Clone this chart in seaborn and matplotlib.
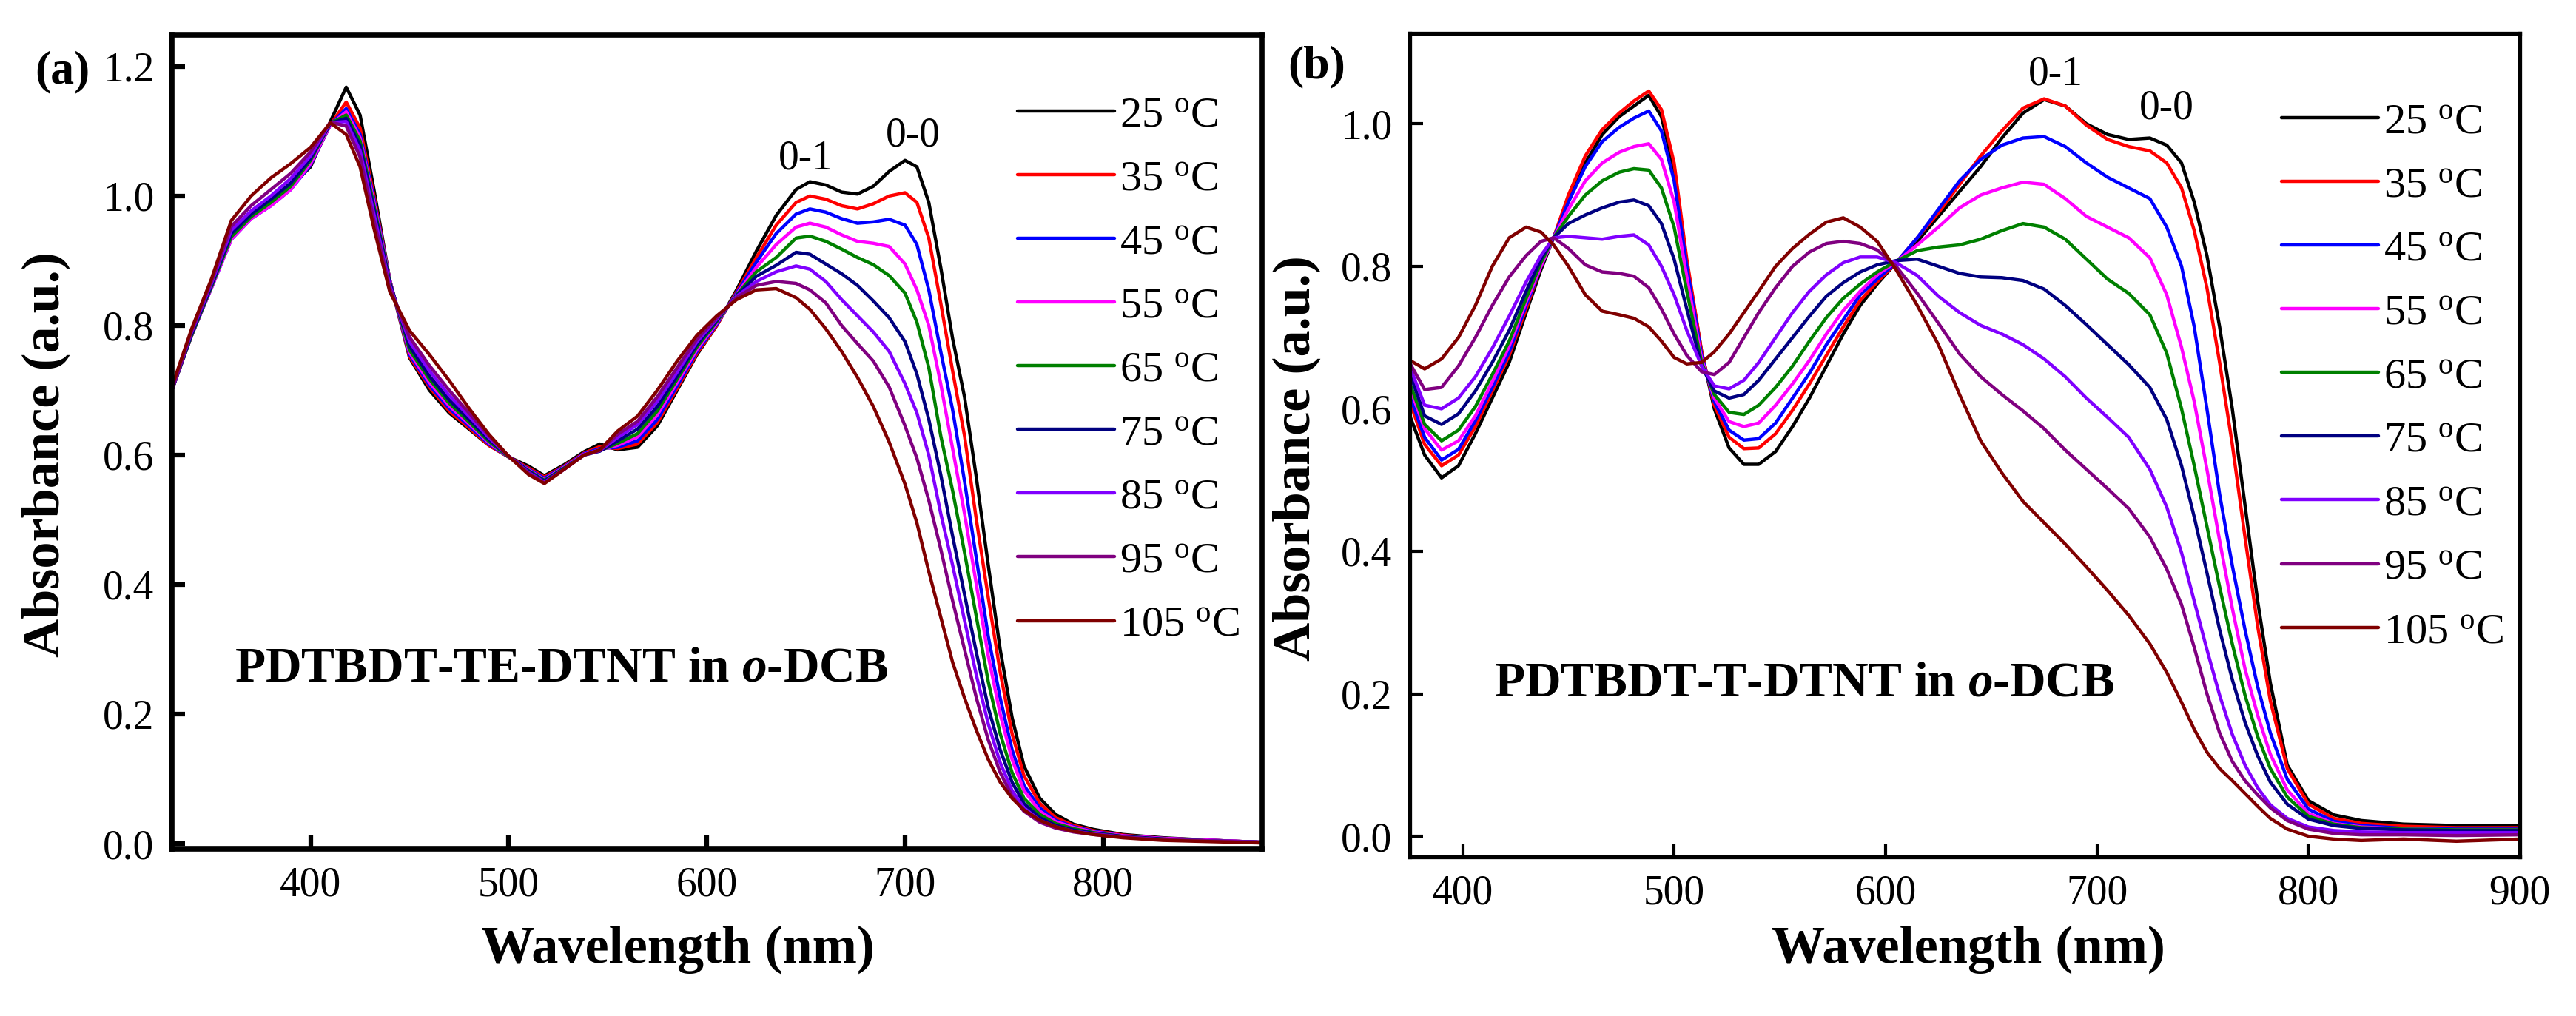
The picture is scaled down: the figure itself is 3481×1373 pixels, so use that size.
import numpy as np
import pandas as pd
import matplotlib
matplotlib.use("Agg")
import matplotlib.pyplot as plt
from matplotlib.ticker import FormatStrFormatter, MultipleLocator
import seaborn as sns

# temperatures and line colours (Origin style)
temps = ["25", "35", "45", "55", "65", "75", "85", "95", "105"]
colors = ["#000000", "#FF0000", "#0000FF", "#FF00FF", "#008000",
          "#000080", "#8000FF", "#800080", "#800000"]

# ---------------- panel (a): PDTBDT-TE-DTNT ----------------
wl_a = [330, 340, 350, 360, 370, 380, 390, 400, 410, 418,
        425, 432, 440, 450, 460, 470, 480, 490, 500, 510,
        518, 528, 538, 546, 555, 565, 575, 585, 595, 605,
        615, 625, 635, 645, 652, 660, 668, 676, 684, 692,
        700, 706, 712, 718, 724, 730, 736, 742, 748, 754,
        760, 768, 776, 785, 795, 810, 830, 855, 880]

a_25 = [0.700, 0.785, 0.860, 0.935, 0.970, 0.990, 1.015, 1.045, 1.115, 1.168,
        1.125, 1.010, 0.870, 0.750, 0.700, 0.665, 0.640, 0.615, 0.597, 0.583,
        0.568, 0.585, 0.605, 0.617, 0.608, 0.612, 0.645, 0.700, 0.755, 0.800,
        0.855, 0.915, 0.970, 1.010, 1.022, 1.017, 1.006, 1.003, 1.015, 1.038,
        1.055, 1.045, 0.990, 0.890, 0.780, 0.690, 0.565, 0.430, 0.300, 0.195,
        0.120, 0.070, 0.045, 0.030, 0.022, 0.014, 0.009, 0.005, 0.002]
a_35 = [0.700, 0.785, 0.860, 0.935, 0.968, 0.988, 1.013, 1.048, 1.110, 1.145,
        1.105, 1.000, 0.870, 0.752, 0.705, 0.668, 0.642, 0.615, 0.597, 0.580,
        0.566, 0.583, 0.603, 0.613, 0.610, 0.617, 0.650, 0.703, 0.757, 0.800,
        0.852, 0.905, 0.955, 0.990, 1.000, 0.995, 0.985, 0.980, 0.988, 1.000,
        1.005, 0.990, 0.935, 0.835, 0.730, 0.630, 0.500, 0.380, 0.265, 0.170,
        0.105, 0.062, 0.040, 0.028, 0.020, 0.013, 0.008, 0.005, 0.002]
a_45 = [0.700, 0.785, 0.858, 0.933, 0.965, 0.985, 1.010, 1.048, 1.110, 1.135,
        1.095, 0.995, 0.870, 0.755, 0.708, 0.672, 0.645, 0.617, 0.597, 0.578,
        0.564, 0.582, 0.602, 0.610, 0.612, 0.622, 0.655, 0.707, 0.760, 0.802,
        0.850, 0.898, 0.942, 0.972, 0.980, 0.975, 0.965, 0.958, 0.960, 0.964,
        0.955, 0.925, 0.855, 0.760, 0.670, 0.560, 0.440, 0.320, 0.225, 0.145,
        0.090, 0.055, 0.036, 0.026, 0.019, 0.012, 0.008, 0.005, 0.002]
a_55 = [0.700, 0.785, 0.858, 0.933, 0.965, 0.985, 1.010, 1.050, 1.110, 1.130,
        1.090, 0.990, 0.870, 0.758, 0.712, 0.676, 0.648, 0.619, 0.597, 0.577,
        0.562, 0.581, 0.601, 0.608, 0.615, 0.628, 0.662, 0.712, 0.763, 0.804,
        0.848, 0.890, 0.925, 0.952, 0.958, 0.952, 0.940, 0.930, 0.927, 0.922,
        0.895, 0.855, 0.800, 0.710, 0.610, 0.510, 0.400, 0.290, 0.200, 0.130,
        0.082, 0.050, 0.034, 0.025, 0.018, 0.012, 0.008, 0.005, 0.002]
a_65 = [0.700, 0.785, 0.860, 0.937, 0.968, 0.990, 1.015, 1.055, 1.112, 1.125,
        1.085, 0.985, 0.868, 0.762, 0.717, 0.680, 0.651, 0.621, 0.597, 0.576,
        0.561, 0.580, 0.600, 0.607, 0.618, 0.633, 0.668, 0.717, 0.767, 0.806,
        0.847, 0.883, 0.905, 0.935, 0.938, 0.930, 0.918, 0.905, 0.894, 0.877,
        0.850, 0.805, 0.735, 0.630, 0.545, 0.450, 0.350, 0.250, 0.170, 0.110,
        0.070, 0.045, 0.031, 0.023, 0.017, 0.011, 0.007, 0.004, 0.002]
a_75 = [0.700, 0.787, 0.862, 0.942, 0.972, 0.995, 1.020, 1.058, 1.112, 1.120,
        1.078, 0.980, 0.866, 0.768, 0.722, 0.685, 0.655, 0.624, 0.598, 0.575,
        0.560, 0.579, 0.600, 0.606, 0.622, 0.640, 0.675, 0.722, 0.771, 0.808,
        0.846, 0.876, 0.893, 0.913, 0.910, 0.895, 0.880, 0.862, 0.838, 0.812,
        0.775, 0.725, 0.655, 0.570, 0.475, 0.385, 0.295, 0.210, 0.145, 0.095,
        0.062, 0.040, 0.028, 0.021, 0.016, 0.011, 0.007, 0.004, 0.002]
a_85 = [0.700, 0.790, 0.865, 0.947, 0.977, 1.000, 1.027, 1.062, 1.113, 1.115,
        1.070, 0.972, 0.862, 0.775, 0.730, 0.692, 0.660, 0.627, 0.598, 0.573,
        0.558, 0.578, 0.600, 0.607, 0.627, 0.647, 0.683, 0.728, 0.775, 0.810,
        0.845, 0.868, 0.883, 0.892, 0.887, 0.868, 0.840, 0.815, 0.790, 0.760,
        0.710, 0.665, 0.600, 0.510, 0.430, 0.345, 0.260, 0.185, 0.125, 0.082,
        0.055, 0.036, 0.026, 0.019, 0.015, 0.010, 0.006, 0.004, 0.002]
a_95 = [0.700, 0.792, 0.868, 0.953, 0.985, 1.010, 1.035, 1.068, 1.114, 1.108,
        1.060, 0.962, 0.858, 0.782, 0.738, 0.700, 0.665, 0.630, 0.598, 0.572,
        0.557, 0.578, 0.600, 0.607, 0.632, 0.652, 0.690, 0.735, 0.779, 0.812,
        0.843, 0.862, 0.868, 0.865, 0.855, 0.835, 0.800, 0.772, 0.745, 0.705,
        0.645, 0.595, 0.530, 0.455, 0.375, 0.300, 0.225, 0.160, 0.110, 0.073,
        0.050, 0.033, 0.024, 0.018, 0.014, 0.010, 0.006, 0.004, 0.002]
a_105 = [0.705, 0.795, 0.872, 0.962, 1.000, 1.028, 1.050, 1.075, 1.113, 1.095,
         1.045, 0.950, 0.852, 0.792, 0.755, 0.715, 0.672, 0.632, 0.598, 0.570,
         0.556, 0.578, 0.600, 0.608, 0.637, 0.660, 0.700, 0.745, 0.785, 0.815,
         0.840, 0.855, 0.857, 0.843, 0.825, 0.795, 0.760, 0.720, 0.675, 0.620,
         0.555, 0.495, 0.420, 0.350, 0.280, 0.225, 0.175, 0.130, 0.095, 0.070,
         0.052, 0.036, 0.026, 0.019, 0.014, 0.009, 0.005, 0.003, 0.001]

# ---------------- panel (b): PDTBDT-T-DTNT ----------------
wl_b = [375, 382, 390, 398, 406, 414, 422, 430, 437, 443,
        450, 458, 466, 474, 481, 488, 494, 500, 506, 513,
        519, 526, 533, 540, 548, 556, 564, 572, 580, 588,
        596, 605, 615, 625, 635, 645, 655, 665, 675, 685,
        695, 705, 715, 725, 733, 740, 746, 752, 758, 764,
        770, 776, 782, 790, 800, 812, 825, 845, 870, 900]

b_25 = [0.590, 0.535, 0.503, 0.520, 0.565, 0.615, 0.665, 0.735, 0.795, 0.840,
        0.895, 0.945, 0.985, 1.010, 1.025, 1.040, 1.010, 0.935, 0.805, 0.680,
        0.600, 0.545, 0.522, 0.522, 0.540, 0.575, 0.615, 0.660, 0.705, 0.745,
        0.775, 0.805, 0.835, 0.870, 0.905, 0.940, 0.980, 1.015, 1.034, 1.025,
        1.000, 0.985, 0.978, 0.980, 0.970, 0.945, 0.890, 0.815, 0.715, 0.600,
        0.465, 0.330, 0.215, 0.100, 0.050, 0.030, 0.022, 0.017, 0.015, 0.015]
b_35 = [0.610, 0.550, 0.520, 0.535, 0.575, 0.625, 0.675, 0.740, 0.800, 0.840,
        0.900, 0.955, 0.992, 1.015, 1.032, 1.046, 1.020, 0.945, 0.810, 0.680,
        0.605, 0.560, 0.544, 0.545, 0.565, 0.598, 0.635, 0.675, 0.715, 0.752,
        0.778, 0.805, 0.840, 0.875, 0.915, 0.955, 0.990, 1.022, 1.035, 1.025,
        0.998, 0.978, 0.968, 0.962, 0.945, 0.910, 0.850, 0.770, 0.665, 0.550,
        0.420, 0.295, 0.190, 0.095, 0.045, 0.025, 0.018, 0.014, 0.012, 0.012]
b_45 = [0.618, 0.560, 0.528, 0.543, 0.583, 0.630, 0.680, 0.745, 0.800, 0.840,
        0.890, 0.940, 0.975, 0.995, 1.008, 1.018, 0.990, 0.920, 0.800, 0.675,
        0.610, 0.570, 0.556, 0.558, 0.580, 0.615, 0.650, 0.690, 0.725, 0.760,
        0.782, 0.805, 0.840, 0.880, 0.920, 0.950, 0.970, 0.980, 0.982, 0.968,
        0.945, 0.925, 0.910, 0.895, 0.855, 0.800, 0.715, 0.600, 0.480, 0.380,
        0.290, 0.210, 0.145, 0.080, 0.038, 0.021, 0.015, 0.011, 0.010, 0.010]
b_55 = [0.630, 0.572, 0.542, 0.555, 0.590, 0.638, 0.688, 0.750, 0.800, 0.840,
        0.880, 0.920, 0.945, 0.960, 0.968, 0.972, 0.950, 0.890, 0.785, 0.670,
        0.615, 0.582, 0.575, 0.580, 0.605, 0.635, 0.668, 0.705, 0.738, 0.765,
        0.788, 0.806, 0.830, 0.855, 0.882, 0.900, 0.910, 0.918, 0.915, 0.895,
        0.870, 0.855, 0.840, 0.812, 0.760, 0.686, 0.610, 0.515, 0.415, 0.320,
        0.235, 0.170, 0.115, 0.065, 0.032, 0.018, 0.013, 0.010, 0.009, 0.009]
b_65 = [0.636, 0.578, 0.555, 0.570, 0.603, 0.648, 0.695, 0.755, 0.805, 0.840,
        0.870, 0.900, 0.920, 0.932, 0.937, 0.935, 0.910, 0.855, 0.765, 0.665,
        0.620, 0.595, 0.592, 0.605, 0.630, 0.660, 0.695, 0.728, 0.755, 0.775,
        0.792, 0.807, 0.822, 0.827, 0.830, 0.838, 0.850, 0.860, 0.855, 0.838,
        0.810, 0.782, 0.762, 0.732, 0.678, 0.600, 0.520, 0.435, 0.350, 0.270,
        0.198, 0.140, 0.095, 0.055, 0.028, 0.017, 0.012, 0.010, 0.009, 0.009]
b_75 = [0.650, 0.590, 0.578, 0.593, 0.625, 0.665, 0.710, 0.765, 0.810, 0.840,
        0.860, 0.872, 0.882, 0.890, 0.893, 0.885, 0.860, 0.810, 0.740, 0.660,
        0.625, 0.615, 0.620, 0.640, 0.670, 0.700, 0.730, 0.758, 0.777, 0.792,
        0.802, 0.808, 0.810, 0.800, 0.790, 0.785, 0.784, 0.780, 0.768, 0.745,
        0.718, 0.690, 0.662, 0.630, 0.585, 0.520, 0.448, 0.370, 0.290, 0.220,
        0.160, 0.113, 0.076, 0.045, 0.024, 0.015, 0.011, 0.009, 0.008, 0.008]
b_85 = [0.659, 0.605, 0.600, 0.615, 0.645, 0.685, 0.730, 0.778, 0.815, 0.840,
        0.842, 0.840, 0.838, 0.842, 0.844, 0.830, 0.800, 0.760, 0.710, 0.660,
        0.632, 0.628, 0.640, 0.665, 0.700, 0.735, 0.765, 0.788, 0.805, 0.813,
        0.813, 0.805, 0.787, 0.758, 0.735, 0.717, 0.705, 0.690, 0.670, 0.645,
        0.615, 0.588, 0.560, 0.515, 0.462, 0.398, 0.330, 0.262, 0.198, 0.143,
        0.100, 0.068, 0.044, 0.025, 0.013, 0.008, 0.006, 0.005, 0.005, 0.005]
b_95 = [0.664, 0.627, 0.630, 0.660, 0.700, 0.745, 0.785, 0.815, 0.835, 0.840,
        0.825, 0.802, 0.792, 0.790, 0.786, 0.770, 0.740, 0.705, 0.675, 0.652,
        0.648, 0.665, 0.700, 0.735, 0.770, 0.800, 0.820, 0.832, 0.835, 0.832,
        0.823, 0.800, 0.762, 0.720, 0.677, 0.645, 0.620, 0.597, 0.572, 0.542,
        0.515, 0.488, 0.460, 0.420, 0.375, 0.325, 0.265, 0.200, 0.145, 0.105,
        0.078, 0.058, 0.040, 0.022, 0.010, 0.004, 0.002, 0.002, 0.001, 0.002]
b_105 = [0.668, 0.656, 0.670, 0.700, 0.745, 0.800, 0.840, 0.855, 0.848, 0.830,
         0.800, 0.760, 0.737, 0.732, 0.727, 0.715, 0.695, 0.672, 0.663, 0.665,
         0.680, 0.705, 0.735, 0.765, 0.800, 0.825, 0.845, 0.862, 0.868, 0.855,
         0.835, 0.795, 0.745, 0.690, 0.620, 0.555, 0.510, 0.470, 0.440, 0.410,
         0.378, 0.345, 0.310, 0.270, 0.230, 0.188, 0.150, 0.118, 0.095, 0.078,
         0.060, 0.042, 0.025, 0.010, 0.000, -0.004, -0.006, -0.004, -0.007, -0.004]

series_a = [a_25, a_35, a_45, a_55, a_65, a_75, a_85, a_95, a_105]
series_b = [b_25, b_35, b_45, b_55, b_65, b_75, b_85, b_95, b_105]
labels = [t + r" $^{\mathrm{o}}$C" for t in temps]


def long_frame(wl, series):
    rows = []
    for lab, vals in zip(labels, series):
        for w, v in zip(wl, vals):
            rows.append((w, v, lab))
    return pd.DataFrame(rows, columns=["wl", "absorbance", "temp"])


sns.set_style("ticks")
plt.rcParams["font.family"] = ["Liberation Serif", "DejaVu Serif"]
plt.rcParams["mathtext.fontset"] = "custom"
plt.rcParams["mathtext.rm"] = "Liberation Serif"
plt.rcParams["mathtext.it"] = "Liberation Serif:italic:bold"
plt.rcParams["mathtext.bf"] = "Liberation Serif:bold"
for key in ["axes.edgecolor", "xtick.color", "ytick.color",
            "text.color", "axes.labelcolor"]:
    plt.rcParams[key] = "black"

fig = plt.figure(figsize=(34.81, 13.73), dpi=100)
ax_a = fig.add_axes([0.0667, 0.1646, 0.4231, 0.8012])
ax_b = fig.add_axes([0.5473, 0.1566, 0.4309, 0.8106])

panels = [
    dict(ax=ax_a, wl=wl_a, series=series_a, xlim=(330, 880), ylim=(-0.008, 1.249),
         xmax_tick=800, spine=5.5, tickw=4.5, ylab_x=-0.093, xlab=(0.464, -0.094),
         name=r"PDTBDT-TE-DTNT in $\mathit{o}$-DCB", name_xy=(361.7, 0.27),
         p01=(650, 1.058), p00=(704, 1.093), leg=(0.776, 0.925)),
    dict(ax=ax_b, wl=wl_b, series=series_b, xlim=(375, 900), ylim=(-0.029, 1.127),
         xmax_tick=900, spine=3.8, tickw=3.0, ylab_x=-0.08, xlab=(0.503, -0.083),
         name=r"PDTBDT-T-DTNT in $\mathit{o}$-DCB", name_xy=(415, 0.214),
         p01=(680.5, 1.069), p00=(733, 1.022), leg=(0.785, 0.916)),
]

for p in panels:
    ax = p["ax"]
    df = long_frame(p["wl"], p["series"])
    sns.lineplot(data=df, x="wl", y="absorbance", hue="temp", hue_order=labels,
                 palette=colors, estimator=None, linewidth=3.2, legend=False, ax=ax)
    ax.set_xlim(*p["xlim"])
    ax.set_ylim(*p["ylim"])
    ax.yaxis.set_major_locator(MultipleLocator(0.2))
    ax.yaxis.set_major_formatter(FormatStrFormatter("%.1f"))
    ax.set_xticks(range(400, p["xmax_tick"] + 1, 100))
    ax.tick_params(direction="in", length=13, width=p["tickw"], pad=17,
                   labelsize=40, top=False, right=False, colors="black")
    for s in ax.spines.values():
        s.set_linewidth(p["spine"])
        s.set_edgecolor("black")
        s.set_visible(True)

    ax.set_xlabel("Wavelength (nm)", fontsize=52, fontweight="bold")
    ax.set_ylabel("Absorbance (a.u.)", fontsize=52, fontweight="bold")
    ax.xaxis.set_label_coords(*p["xlab"])
    ax.yaxis.set_label_coords(p["ylab_x"], 0.484)

    ax.text(p["name_xy"][0], p["name_xy"][1], p["name"], fontsize=48.5,
            fontweight="bold", ha="left", va="center")
    ax.text(p["p01"][0], p["p01"][1], "0-1", fontsize=40, ha="center", va="center")
    ax.text(p["p00"][0], p["p00"][1], "0-0", fontsize=40, ha="center", va="center")

    leg = ax.legend(ax.lines[:9], labels, loc="upper left",
                    bbox_to_anchor=p["leg"], frameon=False, fontsize=42,
                    handlelength=2.25, handletextpad=0.12, labelspacing=0.57,
                    borderpad=0, borderaxespad=0)
    for h in leg.get_lines():
        h.set_linewidth(3.2)

fig.text(0.0241, 0.929, "(a)", fontsize=46, fontweight="bold", ha="center", va="center")
fig.text(0.511, 0.9344, "(b)", fontsize=46, fontweight="bold", ha="center", va="center")

fig.savefig("out.png", dpi=100, facecolor="white")
